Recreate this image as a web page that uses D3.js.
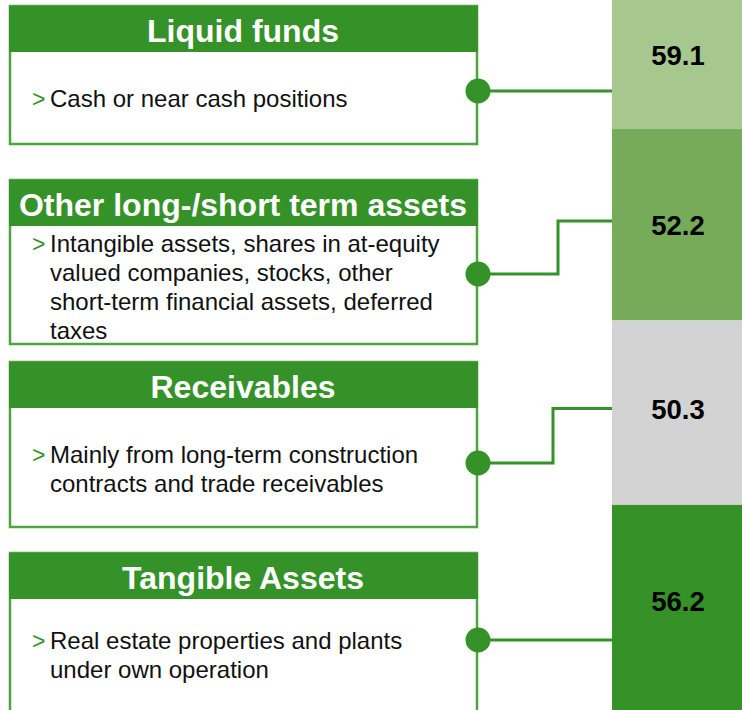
<!DOCTYPE html>
<html>
<head>
  <meta charset="utf-8">
  <title>Asset structure</title>
  <script src="https://d3js.org/d3.v7.min.js"></script>
  <style>
    body { margin: 0; background: #fff; }
    text { font-family: "Liberation Sans", Arial, sans-serif; }
  </style>
</head>
<body>
<svg width="742" height="710"></svg>
<script>
  // chart data
  const categories = ["Liquid funds", "Other long-/short term assets", "Receivables", "Tangible Assets"];
  const values = [59.1, 52.2, 50.3, 56.2];
  const descriptions = [
    ["Cash or near cash positions"],
    ["Intangible assets, shares in at-equity", "valued companies, stocks, other", "short-term financial assets, deferred", "taxes"],
    ["Mainly from long-term construction", "contracts and trade receivables"],
    ["Real estate properties and plants", "under own operation"]
  ];
  const segColors = ["#a6c88f", "#76ab59", "#d3d3d3", "#359229"];

  // layout of the boxes on the left
  const boxTop = [6, 180, 362, 553];
  const boxBottom = [144, 344, 527, 760];
  const dotY = [91, 274, 463, 640];
  const textY = [107, 252, 463, 649];
  const labelShift = [-10, 0, -4, -6];

  const dark = "#359229", border = "#4ea53f";
  const svg = d3.select("svg");

  // stacked bar, bottom segment first
  const total = d3.sum(values);
  const y = d3.scaleLinear().domain([0, total]).range([711, 711 - total * 3.667]);
  let acc = total;
  const segs = values.map((v, i) => {
    const s = { i, v, top: acc, bottom: acc - v };
    acc -= v;
    return s;
  });

  const barX = 612, barW = 130;
  svg.selectAll(".seg").data(segs).enter().append("rect")
    .attr("x", barX).attr("width", barW)
    .attr("y", d => y(d.top))
    .attr("height", d => y(d.bottom) - y(d.top))
    .attr("fill", d => segColors[d.i]);

  svg.selectAll(".val").data(segs).enter().append("text")
    .attr("x", barX + barW / 2 + 1)
    .attr("y", d => {
      const t = Math.max(0, y(d.top)), b = Math.min(710, y(d.bottom));
      return (t + b) / 2 + labelShift[d.i] + 10;
    })
    .attr("text-anchor", "middle")
    .attr("font-size", 27.5).attr("font-weight", "bold").attr("fill", "#000")
    .text(d => d.v.toFixed(1));

  // connectors from the boxes to the bar
  const line = d3.line();
  segs.forEach(d => {
    const i = d.i;
    const t = Math.max(0, y(d.top));
    let ty = i === 0 ? dotY[0] : i === 3 ? dotY[3] : t + 92 - (i === 2 ? 4 : 0);
    const pts = ty === dotY[i]
      ? [[478, dotY[i]], [barX, dotY[i]]]
      : [[478, dotY[i]], [i === 1 ? 558 : 553, dotY[i]], [i === 1 ? 558 : 553, ty], [barX, ty]];
    svg.append("path").attr("d", line(pts))
      .attr("fill", "none").attr("stroke", dark).attr("stroke-width", 3);
  });

  // boxes
  const box = svg.selectAll(".box").data(categories).enter().append("g");
  box.append("rect")
    .attr("x", 10).attr("y", (d, i) => boxTop[i])
    .attr("width", 467).attr("height", (d, i) => boxBottom[i] - boxTop[i])
    .attr("fill", "#fff").attr("stroke", border).attr("stroke-width", 2.5);
  box.append("rect")
    .attr("x", 9).attr("y", (d, i) => boxTop[i])
    .attr("width", 469).attr("height", 46)
    .attr("fill", dark);
  box.append("text")
    .attr("x", 243).attr("y", (d, i) => boxTop[i] + 36)
    .attr("text-anchor", "middle")
    .attr("font-size", 32).attr("font-weight", "bold").attr("fill", "#fff")
    .text(d => d);
  box.append("text")
    .attr("x", 32).attr("y", (d, i) => textY[i])
    .attr("font-size", 23).attr("fill", dark)
    .text(">");
  box.each(function(d, i) {
    d3.select(this).selectAll(".ln").data(descriptions[i]).enter().append("text")
      .attr("x", 50).attr("y", (s, j) => textY[i] + j * 29)
      .attr("font-size", 24).attr("fill", "#111")
      .text(s => s);
  });
  box.append("circle")
    .attr("cx", 478).attr("cy", (d, i) => dotY[i]).attr("r", 12.5)
    .attr("fill", dark);
</script>
</body>
</html>
